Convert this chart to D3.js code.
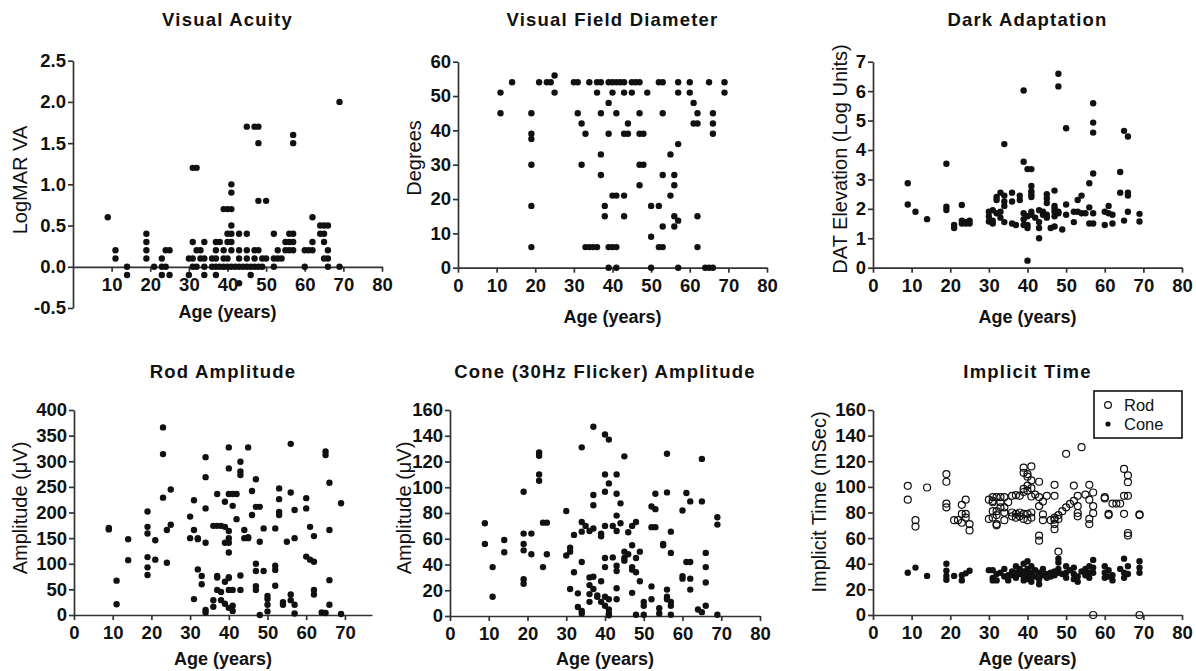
<!DOCTYPE html>
<html><head><meta charset="utf-8">
<script src="https://cdn.jsdelivr.net/npm/d3@7"></script>
<style>
body{margin:0;background:#fff}
text{font-family:"Liberation Sans",Arial,sans-serif;fill:#111}
</style>
</head><body>
<svg id="chart" width="1196" height="671"></svg>
<script>
// ---------- DATA (age in years) ----------
const ageTicks = [0,10,20,30,40,50,60,70,80];
const ageTicksNoZero = [10,20,30,40,50,60,70,80];
const ageTicksTo70 = [0,10,20,30,40,50,60,70];
const acuityTicks = [-0.5,0,0.5,1,1.5,2,2.5];
const fieldTicks = [0,10,20,30,40,50,60];
const darkTicks = [0,1,2,3,4,5,6,7];
const rodAmpTicks = [0,50,100,150,200,250,300,350,400];
const coneAmpTicks = [0,20,40,60,80,100,120,140,160];
const implicitTicks = [0,20,40,60,80,100,120,140,160];

const visualAcuity = [
 [9,[0.6]],[11,[0.2,0.1]],[14,[0,-0.1]],[19,[0.4,0.3,0.2,0.1]],[21,[0]],
 [23,[0.1,0,-0.1]],[24,[0.2,0]],[25,[0.2,-0.1]],[30,[0.1,-0.1]],[31,[0.1,0.3,1.2,0]],
 [32,[0.2,1.2,0]],[33,[0.2,0.1]],[34,[0.3,0.1,-0.1,0]],[36,[0.1,0]],[37,[0.3,0.2,0.1,-0.1,0]],
 [38,[0.3,0]],[39,[0.2,0.1,0.7,0]],[40,[0.3,0.4,0.7,0.1,0]],[41,[0.3,0.4,0.5,0.7,0.9,1.0,0.2,0]],
 [42,[0]],[43,[0.4,0.2,0.1,-0.2,0]],[44,[0]],[45,[0.4,0.2,0.1,1.7,0]],[46,[-0.1,0]],
 [47,[0.2,0.1,1.7,0]],[48,[0.2,1.7,1.5,0.8,0]],[49,[0.1,0]],[50,[0.1,0.8]],[52,[0.4,0.1,0]],
 [53,[0.2,0.1]],[54,[0.1]],[55,[0.3,0.2]],[56,[0.4,0.3,0.2]],[57,[0.4,0.3,0.2,1.6,1.5]],
 [60,[0.2,0]],[61,[0.2]],[62,[0.6,0.3,0.2]],[64,[0.5,0.4]],[65,[0.5,0.4,0.3,0.1]],
 [66,[0.5,0.2,0.1,0]],[69,[2.0,0]]
];
const visualField = [
 [11,[51,45]],[14,[54]],[19,[45,39,37.5,30,18,6]],[21,[54]],[23,[54]],[24,[54]],[25,[56,51]],
 [30,[54]],[31,[54,45]],[32,[42,30]],[33,[39,6]],[34,[54,6]],[35,[6]],[36,[54,51,6]],
 [37,[54,45,33,27]],[38,[18,15]],[39,[54,48,39,6,0]],[40,[54,51,21,6]],[41,[54,45,21,6,0]],
 [42,[54]],[43,[54,51,39,21,15]],[44,[42,39]],[45,[54,51]],[46,[54]],[47,[54,45,39,30,24]],
 [48,[30,39]],[49,[51]],[50,[18,9,0]],[52,[54,18,6]],[53,[54,45,27,12,6]],[55,[33,21]],
 [56,[27,24,15,12]],[57,[54,51,36,13.7,0]],[60,[54,51]],[61,[48,42]],[62,[45,42,15,6]],
 [64,[0]],[65,[54,0]],[66,[45,42,39,0]],[69,[54,51]]
];
const darkAdaptation = [
 [9,[2.87,2.15]],[11,[1.9]],[14,[1.65]],[19,[3.53,2.07,1.96]],[21,[1.45,1.35]],
 [23,[2.13,1.6,1.5]],[24,[1.55,1.5]],[25,[1.6,1.5]],[30,[1.74,1.57,1.9]],[31,[1.95,1.6,1.5]],
 [32,[2.4,2.3,1.85]],[33,[1.9,1.7,2.55]],[34,[4.2,2.45,2.25,2.1,1.55]],[36,[2.55,2.25,1.5]],
 [37,[1.45]],[38,[2.45,2.3]],[39,[6.02,3.6,1.85,1.65,1.45]],[40,[3.35,1.75,1.45,1.35,0.24]],
 [41,[3.35,2.78,2.6,2.5,2.4,1.9,1.8]],[42,[1.7]],[43,[1.55,1.35,1.0,1.95]],[44,[1.9,1.8]],
 [45,[2.5,2.35,2.2,1.8,1.7]],[46,[1.35]],[47,[2.62,2.1,2.0,1.9,1.75,1.4]],[48,[6.59,6.16,1.85,1.9]],
 [49,[1.3]],[50,[4.74,2.15,1.8]],[52,[1.9,1.55]],[53,[2.3,1.9]],[54,[2.45,1.85]],[55,[1.85]],
 [56,[2.87,2.05,1.5]],[57,[5.59,4.93,4.59,3.2,1.85,1.5]],[60,[1.9,1.45]],[61,[2.1,1.85]],
 [62,[1.8,1.5]],[64,[3.25,2.55]],[65,[4.65,1.6]],[66,[4.46,2.45,2.55,1.9]],[69,[1.83,1.57]]
];
const rodAmplitude = [
 [9,[170,167]],[11,[67,21]],[14,[148,107]],[19,[202,172,159,113,93,78]],[21,[146,108]],
 [23,[366,314,229]],[24,[166,102]],[25,[245,176]],[30,[192,150]],[31,[224,166,31]],
 [32,[150,89,148]],[33,[76,60]],[34,[308,269,208,141,10,5]],[36,[174,29,16]],
 [37,[174,236,76,73,49]],[38,[174,45,29]],[39,[221,172,141,65,22]],
 [40,[327,286,236,164,150,141,122,74,72,49,14]],[41,[236,213,49,18,8]],[42,[236,187]],
 [43,[299,280,273,77,49]],[44,[166,150]],[45,[327,150,152]],[46,[242,195]],
 [47,[265,211,100,86,56,49]],[48,[211,143,0]],[49,[169,86]],[50,[37,31,20,7]],
 [52,[169,96,88,57]],[53,[247,226,201,195]],[54,[25,20]],[55,[143]],[56,[334,239,40,29]],
 [57,[205,150,20,3]],[60,[228,208,114]],[61,[172,108]],[62,[154,104,49,40]],[64,[5]],
 [65,[319,312,4]],[66,[258,166,68,20]],[69,[218,2]]
];
const coneAmplitude = [
 [9,[72,56]],[11,[38,15]],[14,[59,49.5]],[19,[96.5,64,56,51,28.5,25]],[21,[64,48]],
 [23,[127,124.5,110,105]],[24,[72.5,38]],[25,[72.5,48]],[30,[81.5,47]],[31,[50,53,21]],
 [32,[63,34]],[33,[17.6,7]],[34,[131,73,65.5,42,4,2]],[35,[70]],[36,[66,30,24,17,11]],
 [37,[147,94,86,68,30.5,21]],[38,[16,15]],[39,[64,62,27,11]],[40,[141,110,96.5,70,45,38,15,8]],
 [41,[137,103,13,5,2,0.5]],[42,[70,45.5]],[43,[110,95,78,66,39,35,21.5,13]],[44,[87.5,72]],
 [45,[124,50,45,43]],[46,[65,48]],[47,[70,55,38,36,18]],[48,[73,45,34,1]],[49,[50,27]],
 [50,[11,8,1]],[52,[85,69,23,13]],[53,[95,83,69]],[54,[6,2]],[55,[56,55]],
 [56,[126,96,20.5,15,13]],[57,[65.5,49,11,8,1]],[60,[82,31,29]],[61,[95.5,42]],
 [62,[89,42,29,20.5]],[64,[5]],[65,[122,89,3]],[66,[49,38,26,8]],[69,[76.7,71,1]]
];
const rodImplicit = [
 [9,[100.8,90]],[11,[74,69]],[14,[99.5]],[19,[110,104,87,84]],[21,[74]],[22,[74]],
 [23,[86,79,72]],[24,[90,79,76]],[25,[71,66]],[30,[90,75]],[31,[92,88,81,89,76]],
 [32,[92,78,70,81,71]],[33,[92,88,84]],[34,[92,84,80,74]],[35,[88]],[36,[93,80,77]],
 [37,[93.5,79,76]],[38,[93,80,77]],[39,[115,111,98.5,96,79,75]],[40,[110,108,101,97,79,74]],
 [41,[116,105,99,92.5,80,76]],[42,[94]],[43,[104,92,85,62,58]],[44,[88.5,78.5,74]],[45,[93]],
 [46,[74]],[47,[101.6,93,76,74.5,71,67]],[48,[78,75,49.5]],[49,[81]],[50,[125.8,84]],
 [51,[86.7]],[52,[101,89]],[53,[93,85,79.6,77]],[54,[131]],[55,[94]],[56,[101.6,90,75,71]],
 [57,[95.6,85,79.5,0]],[60,[92,91]],[61,[79,78]],[62,[87]],[63,[87]],[64,[87]],
 [65,[114,93,79]],[66,[109,103.7,93,64,62]],[69,[78.5,78,0]]
];
const coneImplicit = [
 [9,[33]],[11,[37]],[14,[30.5]],[19,[40,34.5,30.5,27.5]],[21,[30.5]],[23,[31,27]],[24,[32.5]],
 [25,[34.5]],[30,[35]],[31,[35,29,27]],[32,[32,27]],[33,[33]],[34,[36,30]],[35,[31,27]],
 [36,[34,31]],[37,[38,33,29]],[38,[36,32]],[39,[40,34,30,27]],[40,[42,36,33,31,28]],
 [41,[38,33,30,26]],[42,[35,30]],[43,[33,28,24]],[44,[36,31]],[45,[32,29]],[46,[33,30]],
 [47,[34,31]],[48,[44,41,36,33]],[49,[32]],[50,[38,33,29]],[51,[35]],[52,[37,32,28]],
 [53,[30,26]],[54,[34]],[55,[36,31]],[56,[38,33,29]],[57,[43,37,33]],[60,[38,33,29]],
 [61,[35,30]],[62,[31,27]],[64,[36]],[65,[44,33,29]],[66,[38,32]],[69,[42,37,33]]
];
const legendLabels = ["Rod","Cone"];

// ---------- DRAWING ----------
const flat = d => d.flatMap(([a, vs]) => vs.map(v => ({age: a, v})));
const svg = d3.select("#chart");
svg.append("rect").attr("width",1196).attr("height",671).attr("fill","#fff");
const fmt1 = v => d3.format(".1f")(v).replace("\u2212","-");

const panels = [
 {title:"Visual  Acuity", ylabel:"LogMAR  VA", series:[{d:visualAcuity,open:false}],
  xr:[73,382], yr:[308,60.7], xd:[0,80], yd:[-0.5,2.5], xt:ageTicksNoZero, yt:acuityTicks,
  fmt:fmt1, xAtZero:true, titleY:26, xlabY:318, ylabX:27, ylabY:180},
 {title:"Visual  Field Diameter", ylabel:"Degrees", series:[{d:visualField,open:false}],
  xr:[458,767], yr:[267.7,61.7], xd:[0,80], yd:[0,60], xt:ageTicks, yt:fieldTicks,
  fmt:d3.format("d"), titleY:26, xlabY:323, ylabX:421, ylabY:158},
 {title:"Dark Adaptation", ylabel:"DAT Elevation (Log Units)", series:[{d:darkAdaptation,open:false}],
  xr:[873,1182], yr:[267.7,61.7], xd:[0,80], yd:[0,7], xt:ageTicks, yt:darkTicks,
  fmt:d3.format("d"), titleY:26, xlabY:323, ylabX:847, ylabY:159},
 {title:"Rod Amplitude", ylabel:"Amplitude (\u03BCV)", series:[{d:rodAmplitude,open:false}],
  xr:[74,372], yr:[615,410], xd:[0,77], yd:[0,400], xt:ageTicksTo70, yt:rodAmpTicks,
  fmt:d3.format("d"), titleY:378, xlabY:665, ylabX:27, ylabY:508},
 {title:"Cone (30Hz Flicker) Amplitude", ylabel:"Amplitude (\u03BCV)", series:[{d:coneAmplitude,open:false}],
  xr:[450,760], yr:[616,410], xd:[0,80], yd:[0,160], xt:ageTicks, yt:coneAmpTicks,
  fmt:d3.format("d"), titleY:378, xlabY:665, ylabX:411, ylabY:508},
 {title:"Implicit Time", ylabel:"Implicit Time (mSec)", series:[{d:rodImplicit,open:true},{d:coneImplicit,open:false}],
  xr:[873,1182], yr:[615,410], xd:[0,80], yd:[0,160], xt:ageTicks, yt:implicitTicks,
  fmt:d3.format("d"), titleY:378, xlabY:665, ylabX:826, ylabY:502, legend:true}
];

panels.forEach(p => {
  const g = svg.append("g");
  const x = d3.scaleLinear().domain(p.xd).range(p.xr);
  const y = d3.scaleLinear().domain(p.yd).range(p.yr);
  const xAxisY = p.xAtZero ? y(0) : p.yr[0];

  const xa = g.append("g").attr("transform",`translate(0,${xAxisY})`)
    .call(d3.axisBottom(x).tickValues(p.xt).tickFormat(d3.format("d")).tickSize(5).tickSizeOuter(0).tickPadding(6));
  const ya = g.append("g").attr("transform",`translate(${p.xr[0]},0)`)
    .call(d3.axisLeft(y).tickValues(p.yt).tickFormat(p.fmt).tickSize(5).tickSizeOuter(0).tickPadding(2));
  [xa, ya].forEach(a => {
    a.select(".domain").attr("stroke","#333").attr("stroke-width",1.7);
    a.selectAll(".tick line").attr("stroke","#333").attr("stroke-width",1.7);
    a.selectAll(".tick text").attr("font-family","'Liberation Sans',Arial,sans-serif")
      .attr("font-size",18.5).attr("font-weight","bold").attr("fill","#111");
  });

  p.series.forEach(s => {
    const pts = flat(s.d);
    g.selectAll(null).data(pts).enter().append("circle")
      .attr("cx", d => x(d.age)).attr("cy", d => y(d.v))
      .attr("r", s.open ? 3.5 : 3.2)
      .attr("fill", s.open ? "none" : "#111")
      .attr("stroke", s.open ? "#111" : "none")
      .attr("stroke-width", 1.2);
  });

  const cx = (p.xr[0] + p.xr[1]) / 2;
  g.append("text").attr("x", cx).attr("y", p.titleY).attr("text-anchor","middle")
    .attr("font-size",18.5).attr("font-weight","bold").attr("letter-spacing","1.2px").text(p.title);
  g.append("text").attr("x", cx).attr("y", p.xlabY).attr("text-anchor","middle")
    .attr("font-size",18).attr("font-weight","bold").text("Age (years)");
  g.append("text").attr("transform",`translate(${p.ylabX},${p.ylabY}) rotate(-90)`)
    .attr("text-anchor","middle").attr("font-size",20).text(p.ylabel);

  if (p.legend) {
    const lg = g.append("g");
    lg.append("rect").attr("x",1094).attr("y",391).attr("width",88).attr("height",47)
      .attr("fill","#fff").attr("stroke","#111").attr("stroke-width",1.6);
    legendLabels.forEach((lab, i) => {
      const ly = 405 + i * 19;
      lg.append("circle").attr("cx",1108).attr("cy",ly).attr("r", i === 0 ? 3.4 : 2.6)
        .attr("fill", i === 0 ? "none" : "#111").attr("stroke", i === 0 ? "#111" : "none").attr("stroke-width",1.2);
      lg.append("text").attr("x",1124).attr("y",ly + 6).attr("font-size",16.5).text(lab);
    });
  }
});
</script>
</body></html>
